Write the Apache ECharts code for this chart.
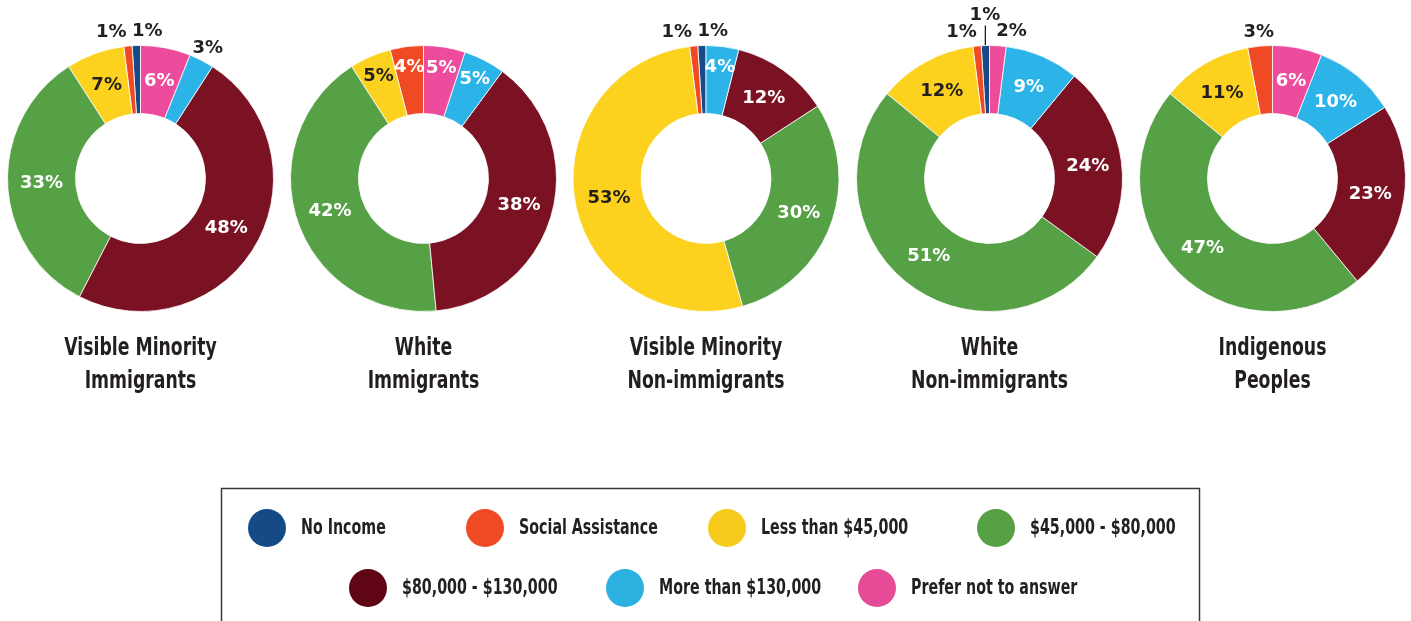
<!DOCTYPE html>
<html>
<head>
<meta charset="utf-8">
<title>Household income by group</title>
<script src="https://cdn.jsdelivr.net/npm/echarts@6/dist/echarts.min.js"></script>
<style>
  html, body { margin: 0; padding: 0; background: #ffffff; }
  #chart { width: 1411px; height: 621px; }
</style>
</head>
<body>
<div id="chart"></div>
<script>
// Income categories (slice order, counter-clockwise from 12 o'clock)
const categories = [
  'No Income',
  'Social Assistance',
  'Less than $45,000',
  '$45,000 - $80,000',
  '$80,000 - $130,000',
  'More than $130,000',
  'Prefer not to answer'
];

// Group titles drawn under each donut
const groupTitles = [
  'Visible Minority\nImmigrants',
  'White\nImmigrants',
  'Visible Minority\nNon-immigrants',
  'White\nNon-immigrants',
  'Indigenous\nPeoples'
];

// Percent of respondents in each income category, per group
const visibleMinorityImmigrants    = [1, 1, 7, 33, 48, 3, 6];
const whiteImmigrants              = [0, 4, 5, 42, 38, 5, 5];
const visibleMinorityNonImmigrants = [1, 1, 53, 30, 12, 4, 0];
const whiteNonImmigrants           = [1, 1, 12, 51, 24, 9, 2];
const indigenousPeoples            = [0, 3, 11, 47, 23, 10, 6];

const groupValues = [
  visibleMinorityImmigrants,
  whiteImmigrants,
  visibleMinorityNonImmigrants,
  whiteNonImmigrants,
  indigenousPeoples
];

// ---- styling / layout ----
const sliceColors  = ['#174a88', '#f04a24', '#fcd21f', '#56a046', '#7b1224', '#2cb4e8', '#ec4c9b'];
const legendColors = ['#164a87', '#f04a24', '#f5cc1e', '#56a046', '#600515', '#2cb0e0', '#e54b97'];
const darkText = '#231f20';
const labelFont = "'DejaVu Sans', Verdana, sans-serif";
const narrowFont = "'DejaVu Sans Condensed', 'Liberation Sans Narrow', sans-serif";

const centersX = [140.5, 423.5, 706, 989.5, 1272.5];
const centerY = 178.5;
const innerR = 65, outerR = 133;
const midR = (innerR + outerR) / 2;
const smallInsideR = 112;   // narrow slices: label nudged toward the rim
const outsideR = 147;       // labels of tiny slices sit just outside the ring
const outsideMax = 3;       // values up to this are labelled outside

// Per-series label placement, derived from the slice angles
function computeLabels(values, cx) {
  const items = [];
  values.forEach((v, i) => { if (v > 0) items.push({ v, cat: i }); });
  const total = items.reduce((s, d) => s + d.v, 0);
  let cum = 0;
  items.forEach(d => {
    const mid = (cum + d.v / 2) / total * Math.PI * 2;
    const theta = Math.PI / 2 + mid; // counter-clockwise from top
    cum += d.v;
    d.outside = d.v <= outsideMax;
    const r = d.outside ? outsideR : (d.v <= 5 ? smallInsideR : midR);
    d.x = cx + r * Math.cos(theta);
    d.y = centerY - r * Math.sin(theta);
    d.rimX = cx + outerR * Math.cos(theta);
    d.rimY = centerY - outerR * Math.sin(theta);
  });
  // spread crowded outside labels
  const outs = items.filter(d => d.outside).sort((a, b) => a.x - b.x);
  const clusters = [];
  outs.forEach(d => {
    const last = clusters[clusters.length - 1];
    if (last && d.x - last[last.length - 1].x < 34) last.push(d);
    else clusters.push([d]);
  });
  clusters.forEach(c => {
    if (c.length === 2) {
      const m = (c[0].x + c[1].x) / 2 - 2;
      c[0].x = m - 18; c[1].x = m + 18;
    } else if (c.length >= 3) {
      const m = c.reduce((s, d) => s + d.x, 0) / c.length;
      c[0].x = m - 25;
      c[c.length - 1].x = m + 25;
      c.slice(1, -1).forEach(d => {
        d.y = centerY - 163;
        d.leader = true;
      });
    }
  });
  return items;
}

const series = [];
const graphics = [];
groupValues.forEach((values, s) => {
  const cx = centersX[s];
  const items = computeLabels(values, cx);
  series.push({
    type: 'pie',
    name: groupTitles[s].replace('\n', ' '),
    center: [cx, centerY],
    radius: [innerR, outerR],
    startAngle: 90,
    clockwise: false,
    avoidLabelOverlap: false,
    silent: true,
    itemStyle: { borderColor: '#ffffff', borderWidth: 0.8 },
    label: {
      fontFamily: labelFont,
      fontWeight: 'bold',
      fontSize: 18,
      formatter: p => p.value + '%'
    },
    labelLine: { show: false },
    data: items.map(d => ({
      name: categories[d.cat],
      value: d.v,
      itemStyle: { color: sliceColors[d.cat] },
      label: {
        position: d.outside ? 'outside' : 'inside',
        color: (d.outside || d.cat === 2) ? darkText : '#ffffff'
      },
      labelLine: d.leader
        ? { show: true, lineStyle: { color: '#111111', width: 1.2 } }
        : { show: false }
    })),
    labelLayout: params => {
      const d = items[params.dataIndex];
      const out = { x: d.x, y: d.y, align: 'center', verticalAlign: 'middle' };
      if (d.leader) {
        out.labelLinePoints = [
          [d.rimX, d.rimY],
          [d.rimX, d.y + 10],
          [d.rimX, d.y + 12]
        ];
      }
      return out;
    }
  });
  // two-line group title under the donut
  groupTitles[s].split('\n').forEach((line, k) => {
    graphics.push({
      type: 'text',
      silent: true,
      x: cx,
      y: 349 + k * 33,
      scaleX: 0.8,
      style: {
        text: line,
        font: 'bold 24px ' + narrowFont,
        fill: darkText,
        textAlign: 'center',
        textVerticalAlign: 'middle'
      }
    });
  });
});

// Legend: boxed, two centred rows of circle swatches
graphics.push({
  type: 'rect',
  silent: true,
  shape: { x: 221.5, y: 488.5, width: 978, height: 150 },
  style: { fill: 'none', stroke: '#3a3a3a', lineWidth: 1.5 }
});
const legendRows = [
  { y: 528, items: [[0, 267], [1, 485], [2, 727], [3, 996]] },
  { y: 588, items: [[4, 368], [5, 625], [6, 877]] }
];
legendRows.forEach(row => {
  row.items.forEach(([cat, x]) => {
    graphics.push({
      type: 'circle',
      silent: true,
      shape: { cx: x, cy: row.y, r: 19 },
      style: { fill: legendColors[cat] }
    });
    graphics.push({
      type: 'text',
      silent: true,
      x: x + 34,
      y: row.y,
      scaleX: 0.72,
      style: {
        text: categories[cat],
        font: 'bold 22px ' + narrowFont,
        fill: darkText,
        textAlign: 'left',
        textVerticalAlign: 'middle'
      }
    });
  });
});

const chart = echarts.init(document.getElementById('chart'), null, { renderer: 'canvas' });
chart.setOption({
  animation: false,
  backgroundColor: '#ffffff',
  graphic: graphics,
  series: series
});
</script>
</body>
</html>
